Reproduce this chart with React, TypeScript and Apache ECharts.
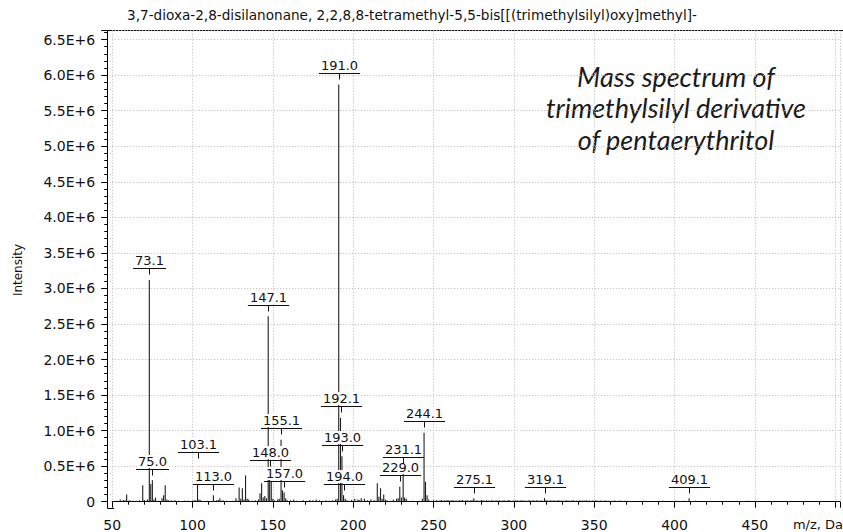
import React, { useEffect, useRef } from 'react';
import * as echarts from 'echarts';

const TITLE = '3,7-dioxa-2,8-disilanonane, 2,2,8,8-tetramethyl-5,5-bis[[(trimethylsilyl)oxy]methyl]-';
const NOTE_LINES = ['Mass spectrum of', 'trimethylsilyl derivative', 'of pentaerythritol'];
const X_NAME = 'm/z, Da';
const Y_NAME = 'Intensity';

// labelled peaks
const labeledMz = [73.1, 75.0, 103.1, 113.0, 147.1, 148.0, 155.1, 157.0, 191.0, 192.1, 193.0, 194.0, 229.0, 231.1, 244.1, 275.1, 319.1, 409.1];
const labeledIntensity = [3120000, 300000, 250000, 90000, 2610000, 420000, 870000, 130000, 5870000, 1180000, 640000, 90000, 210000, 470000, 970000, 50000, 50000, 50000];
// labels that were pushed up by the labelling layout (intensity level of the label's underline)
const labelLevelOverride: Record<string, number> = { '103.1': 700000 };

// unlabelled peaks, 53-250
const minorMz = [53, 55, 56, 57, 58, 59, 60, 61, 62, 63, 65, 66, 67, 68, 69, 70, 71, 72, 74, 76, 77, 78, 79, 80, 81, 82, 83, 84, 85, 86, 87, 88, 89, 90, 91, 92, 93, 94, 95, 96, 97, 98, 99, 100, 101, 102, 104, 105, 106, 107, 108, 109, 110, 111, 112, 114, 115, 116, 117, 118, 119, 120, 121, 122, 123, 124, 125, 126, 127, 128, 129, 130, 131, 132, 133, 134, 135, 136, 137, 138, 139, 140, 141, 142, 143, 144, 145, 146, 149, 150, 151, 152, 153, 154, 156, 158, 159, 160, 161, 162, 163, 164, 165, 166, 167, 168, 169, 170, 171, 172, 173, 174, 175, 176, 177, 178, 179, 180, 181, 182, 183, 184, 185, 186, 187, 188, 189, 190, 195, 196, 197, 198, 199, 200, 201, 202, 203, 204, 205, 206, 207, 208, 209, 210, 211, 212, 213, 214, 215, 216, 217, 218, 219, 220, 221, 222, 223, 224, 225, 226, 227, 228, 230, 232, 233, 234, 235, 236, 237, 238, 239, 240, 241, 242, 243, 245, 246, 247, 248, 249];
const minorIntensity = [15000, 30000, 10000, 25000, 20000, 100000, 15000, 20000, 8000, 12000, 15000, 8000, 20000, 10000, 230000, 25000, 15000, 30000, 250000, 30000, 60000, 10000, 15000, 8000, 50000, 90000, 230000, 30000, 20000, 15000, 18000, 8000, 20000, 8000, 15000, 6000, 10000, 8000, 15000, 6000, 15000, 8000, 10000, 15000, 20000, 20000, 30000, 20000, 8000, 10000, 6000, 15000, 8000, 10000, 8000, 15000, 20000, 25000, 50000, 12000, 20000, 8000, 15000, 6000, 10000, 8000, 15000, 8000, 50000, 15000, 200000, 40000, 190000, 30000, 370000, 40000, 30000, 10000, 15000, 8000, 20000, 10000, 30000, 120000, 260000, 60000, 80000, 50000, 280000, 40000, 20000, 10000, 30000, 40000, 160000, 50000, 20000, 10000, 20000, 8000, 30000, 10000, 15000, 8000, 10000, 8000, 20000, 8000, 15000, 6000, 25000, 10000, 20000, 8000, 30000, 10000, 20000, 8000, 15000, 8000, 20000, 10000, 15000, 8000, 20000, 15000, 30000, 40000, 40000, 20000, 15000, 10000, 25000, 12000, 40000, 15000, 30000, 20000, 50000, 15000, 40000, 12000, 20000, 10000, 30000, 10000, 20000, 15000, 260000, 70000, 190000, 40000, 100000, 30000, 20000, 8000, 15000, 8000, 30000, 10000, 40000, 50000, 60000, 60000, 40000, 15000, 10000, 8000, 15000, 8000, 10000, 8000, 15000, 10000, 40000, 280000, 90000, 30000, 10000, 15000];

// dense low-level baseline peaks, 250-373
const bandMz = [250, 251, 252, 253, 254, 255, 256, 257, 258, 259, 260, 261, 262, 263, 264, 265, 266, 267, 268, 269, 270, 271, 272, 273, 274, 276, 277, 278, 279, 280, 281, 282, 283, 284, 285, 286, 287, 288, 289, 290, 291, 292, 293, 294, 295, 296, 297, 298, 299, 300, 301, 302, 303, 304, 305, 306, 307, 308, 309, 310, 311, 312, 313, 314, 315, 316, 317, 318, 320, 321, 322, 323, 324, 325, 326, 327, 328, 329, 330, 331, 332, 333, 334, 335, 336, 337, 338, 339, 340, 341, 342, 343, 344, 345, 346, 347, 348, 349, 350, 351, 352, 353, 354, 355, 356, 357, 358, 359, 360, 361, 362, 363, 364, 365, 366, 367, 368, 369, 370, 371, 372, 373];
const bandIntensity = [20000, 15000, 22000, 12000, 18000, 25000, 14000, 20000, 16000, 24000, 12000, 19000, 22000, 15000, 17000, 13000, 21000, 18000, 25000, 14000, 16000, 20000, 12000, 19000, 22000, 15000, 20000, 13000, 18000, 24000, 16000, 12000, 20000, 17000, 14000, 22000, 18000, 13000, 20000, 15000, 19000, 12000, 16000, 21000, 14000, 18000, 23000, 15000, 12000, 20000, 16000, 19000, 13000, 17000, 22000, 14000, 18000, 12000, 16000, 20000, 13000, 19000, 15000, 22000, 17000, 12000, 18000, 14000, 20000, 16000, 12000, 19000, 15000, 22000, 13000, 17000, 20000, 14000, 18000, 12000, 16000, 21000, 15000, 13000, 18000, 20000, 12000, 16000, 14000, 19000, 13000, 17000, 15000, 20000, 12000, 18000, 14000, 16000, 13000, 19000, 12000, 15000, 17000, 14000, 12000, 16000, 13000, 15000, 11000, 14000, 12000, 16000, 10000, 13000, 12000, 14000, 10000, 12000, 11000, 13000, 9000, 11000];

// sparse high-mass baseline peaks
const tailMz = [379, 381, 383, 386, 388, 391, 393, 397, 399, 401, 402, 404, 406, 407, 411, 413, 416, 418, 421, 425, 428, 431, 433, 437, 440, 443, 446, 447, 449, 451, 454, 457, 461, 464, 468, 471, 475, 480];
const tailIntensity = [9000, 12000, 8000, 11000, 10000, 9000, 12000, 8000, 10000, 13000, 9000, 11000, 12000, 10000, 9000, 12000, 8000, 10000, 9000, 11000, 8000, 10000, 9000, 8000, 11000, 9000, 12000, 10000, 8000, 11000, 9000, 8000, 10000, 9000, 8000, 9000, 7000, 8000];

const FONT = '"DejaVu Sans", Verdana, sans-serif';

let measureCtx: CanvasRenderingContext2D | null = null;
function textWidth(t: string, font: string): number {
  if (!measureCtx) measureCtx = document.createElement('canvas').getContext('2d');
  if (!measureCtx) return t.length * 7.5;
  measureCtx.font = font;
  return measureCtx.measureText(t).width;
}

export default function App() {
  const ref = useRef<HTMLDivElement>(null);
  useEffect(() => {
    document.body.style.margin = '0';
    if (!ref.current) return;
    const chart = echarts.init(ref.current, undefined, { renderer: 'svg' });

    const stemData: number[][] = [];
    minorMz.forEach((m, i) => stemData.push([m, minorIntensity[i]]));
    bandMz.forEach((m, i) => stemData.push([m, bandIntensity[i]]));
    tailMz.forEach((m, i) => stemData.push([m, tailIntensity[i]]));
    labeledMz.forEach((m, i) => stemData.push([m, labeledIntensity[i]]));

    const labelData = labeledMz.map((m, i) => [m, labeledIntensity[i], labelLevelOverride[m.toFixed(1)] ?? -1]);
    const labelFont = '13px ' + FONT;

    const option: any = {
      animation: false,
      grid: { left: 112.2, top: 30.7, right: 0, bottom: 30.3, containLabel: false },
      xAxis: {
        type: 'value', min: 50, max: 503, interval: 50, offset: 6.3,
        axisLine: { show: true, lineStyle: { color: '#000', width: 1 } },
        axisTick: { show: true, length: 6, lineStyle: { color: '#000' } },
        minorTick: { show: true, splitNumber: 5, length: 3, lineStyle: { color: '#000' } },
        axisLabel: {
          margin: 10, color: '#111', fontSize: 14, fontFamily: FONT,
          formatter: (v: number) => (v % 50 === 0 && v < 500 ? String(v) : ''),
        },
        splitLine: { show: true, lineStyle: { type: [1, 2], color: '#b8b8b8', width: 1 } },
      },
      yAxis: {
        type: 'value', min: 0, max: 6625000, interval: 500000, offset: 5,
        axisLine: { show: true, lineStyle: { color: '#000', width: 1 } },
        axisTick: { show: true, length: 6, lineStyle: { color: '#000' } },
        minorTick: { show: true, splitNumber: 5, length: 3, lineStyle: { color: '#000' } },
        axisLabel: {
          margin: 12, color: '#111', fontSize: 14, fontFamily: FONT,
          formatter: (v: number) => {
            if (v % 500000 !== 0) return '';
            if (v === 0) return '0';
            return (v / 1e6).toFixed(1) + 'E+6';
          },
        },
        splitLine: { show: true, lineStyle: { type: [1, 2], color: '#b8b8b8', width: 1 } },
      },
      series: [
        {
          type: 'custom', name: 'stems', z: 2,
          data: stemData,
          renderItem: (params: any, api: any) => {
            const x = api.value(0);
            const v = api.value(1);
            const p0 = api.coord([x, 0]);
            const p1 = api.coord([x, v]);
            return {
              type: 'line',
              shape: { x1: p0[0], y1: p0[1], x2: p1[0], y2: p1[1] },
              style: { stroke: '#1e1e1e', lineWidth: 1.1 },
            };
          },
        },
        {
          type: 'custom', name: 'labels', z: 3,
          data: labelData,
          renderItem: (params: any, api: any) => {
            const mz = api.value(0);
            const v = api.value(1);
            const lv = api.value(2);
            const top = api.coord([mz, v]);
            const uyRaw = lv > 0 ? api.coord([mz, lv])[1] : top[1] - 11.5;
            const uy = Math.round(uyRaw) + 0.5;
            const txt = mz.toFixed(1);
            const w = textWidth(txt, labelFont) + 4;
            const px = Math.round(top[0]) + 0.5;
            return {
              type: 'group',
              children: [
                {
                  type: 'text', x: px, y: uy - 1.5,
                  style: {
                    text: txt, align: 'center', verticalAlign: 'bottom',
                    font: labelFont, fill: '#111', backgroundColor: '#fff', padding: [0, 1, 0, 1],
                  },
                },
                { type: 'line', shape: { x1: px - w / 2, y1: uy, x2: px + w / 2, y2: uy }, style: { stroke: '#111', lineWidth: 1.2 } },
                { type: 'line', shape: { x1: px, y1: uy, x2: px, y2: uy + 6 }, style: { stroke: '#111', lineWidth: 1 } },
              ],
            };
          },
        },
      ],
      graphic: [
        { type: 'text', x: 412, y: 15, style: { text: TITLE, align: 'center', verticalAlign: 'middle', font: '13.6px ' + FONT, fill: '#111' } },
        { type: 'text', x: 18, y: 270, rotation: Math.PI / 2, style: { text: Y_NAME, align: 'center', verticalAlign: 'middle', font: '12px ' + FONT, fill: '#111' } },
        { type: 'text', x: 843, y: 524, style: { text: X_NAME, align: 'right', verticalAlign: 'middle', font: '13px ' + FONT, fill: '#111' } },
        { type: 'line', shape: { x1: 107, y1: 30.5, x2: 843, y2: 30.5 }, style: { stroke: '#000', lineWidth: 1 } },
        { type: 'polyline', shape: { points: [[107.5, 500], [107.5, 508.5], [114, 508.5]] }, style: { stroke: '#000', lineWidth: 1, fill: null } },
        ...NOTE_LINES.map((t, i) => ({
          type: 'text', x: 676, y: 76 + i * 31.5,
          style: { text: t, align: 'center', verticalAlign: 'middle', lineHeight: 30, font: 'italic 27px Lato, sans-serif', fill: '#1a1a1a' },
        })),
      ],
    };
    chart.setOption(option);
    return () => chart.dispose();
  }, []);
  return <div ref={ref} style={{ width: 843, height: 532 }} />;
}
